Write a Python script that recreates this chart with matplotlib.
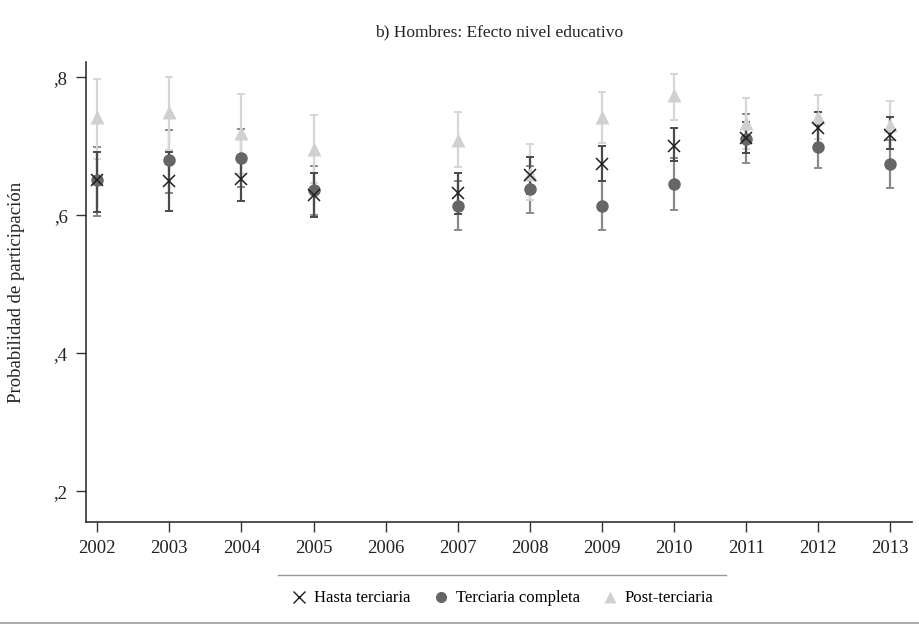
import matplotlib.pyplot as plt
from matplotlib.lines import Line2D

years = [2002, 2003, 2004, 2005, 2007, 2008, 2009, 2010, 2011, 2012, 2013]
year_ticks = list(range(2002, 2014))

hasta = [0.651, 0.649, 0.652, 0.629, 0.632, 0.658, 0.674, 0.700, 0.712, 0.726, 0.716]
hasta_lo = [0.604, 0.606, 0.620, 0.597, 0.602, 0.630, 0.649, 0.678, 0.690, 0.703, 0.696]
hasta_hi = [0.691, 0.692, 0.684, 0.661, 0.661, 0.685, 0.700, 0.726, 0.735, 0.749, 0.743]

completa = [0.651, 0.680, 0.683, 0.637, 0.614, 0.638, 0.614, 0.645, 0.711, 0.699, 0.674]
completa_lo = [0.599, 0.632, 0.641, 0.600, 0.578, 0.603, 0.578, 0.607, 0.676, 0.668, 0.639]
completa_hi = [0.699, 0.724, 0.725, 0.671, 0.650, 0.672, 0.650, 0.683, 0.746, 0.730, 0.709]

post = [0.743, 0.749, 0.719, 0.696, 0.709, 0.660, 0.743, 0.774, 0.733, 0.742, 0.731]
post_lo = [0.682, 0.695, 0.660, 0.647, 0.670, 0.622, 0.705, 0.738, 0.696, 0.710, 0.696]
post_hi = [0.797, 0.800, 0.775, 0.745, 0.750, 0.703, 0.778, 0.804, 0.770, 0.774, 0.766]

y_ticks = [0.2, 0.4, 0.6, 0.8]
y_labels = [",2", ",4", ",6", ",8"]

plt.rcParams['font.family'] = ['Liberation Serif', 'DejaVu Serif']

fig = plt.figure(figsize=(9.2, 6.28), dpi=100)
ax = fig.add_axes([0.0932, 0.1688, 0.898, 0.7325])


def draw_ci(vals, lo, hi, color):
    err = [[v - l for v, l in zip(vals, lo)], [h - v for v, h in zip(vals, hi)]]
    ax.errorbar(years, vals, yerr=err, fmt='none', ecolor=color,
                elinewidth=1.6, capsize=3, capthick=1.4, zorder=2)


draw_ci(completa, completa_lo, completa_hi, '#8a8a8a')
draw_ci(post, post_lo, post_hi, '#d6d6d6')
draw_ci(hasta, hasta_lo, hasta_hi, '#4a4a4a')

ax.plot(years, completa, 'o', color='#666666', ms=9, mec='none', zorder=3)
ax.plot(years, post, '^', color='#d0d0d0', ms=9.5, mec='none', zorder=4)
ax.plot(years, hasta, 'x', color='#1e1e1e', ms=9, mew=1.1, zorder=5)

ax.set_xlim(2001.84, 2013.3)
ax.set_ylim(0.1555, 0.822)
ax.set_xticks(year_ticks)
ax.set_xticklabels([str(y) for y in year_ticks])
ax.set_yticks(y_ticks)
ax.set_yticklabels(y_labels)

for side in ['top', 'right']:
    ax.spines[side].set_visible(False)
for side in ['left', 'bottom']:
    ax.spines[side].set_color('#333333')
    ax.spines[side].set_linewidth(1.2)
ax.tick_params(axis='both', length=7, width=1.0, color='#333333',
               labelsize=13.5, labelcolor='#222222', pad=6)

fig.text(0.0175, 0.535, "Probabilidad de participación", rotation=90,
         ha='center', va='center', fontsize=13.5, color='#222222')
fig.text(0.543, 0.949, "b) Hombres: Efecto nivel educativo",
         ha='center', va='center', fontsize=12.5, color='#222222')

handles = [
    Line2D([], [], ls='none', marker='x', color='#1e1e1e', ms=8, mew=1.0),
    Line2D([], [], ls='none', marker='o', color='#666666', ms=8, mec='none'),
    Line2D([], [], ls='none', marker='^', color='#d0d0d0', ms=8, mec='none'),
]
labels = ["Hasta terciaria", "Terciaria completa", "Post-terciaria"]
fig.legend(handles, labels, loc='center', bbox_to_anchor=(0.545, 0.047),
           ncol=3, frameon=False, fontsize=12, handletextpad=0.3,
           columnspacing=1.2, handlelength=1.2)

fig.add_artist(Line2D([0.302, 0.789], [0.085, 0.085], color='#999999',
                      lw=1.0, transform=fig.transFigure))
fig.add_artist(Line2D([0.0, 1.0], [0.008, 0.008], color='#aaaaaa',
                      lw=1.4, transform=fig.transFigure))

fig.savefig("out.png", dpi=100)
